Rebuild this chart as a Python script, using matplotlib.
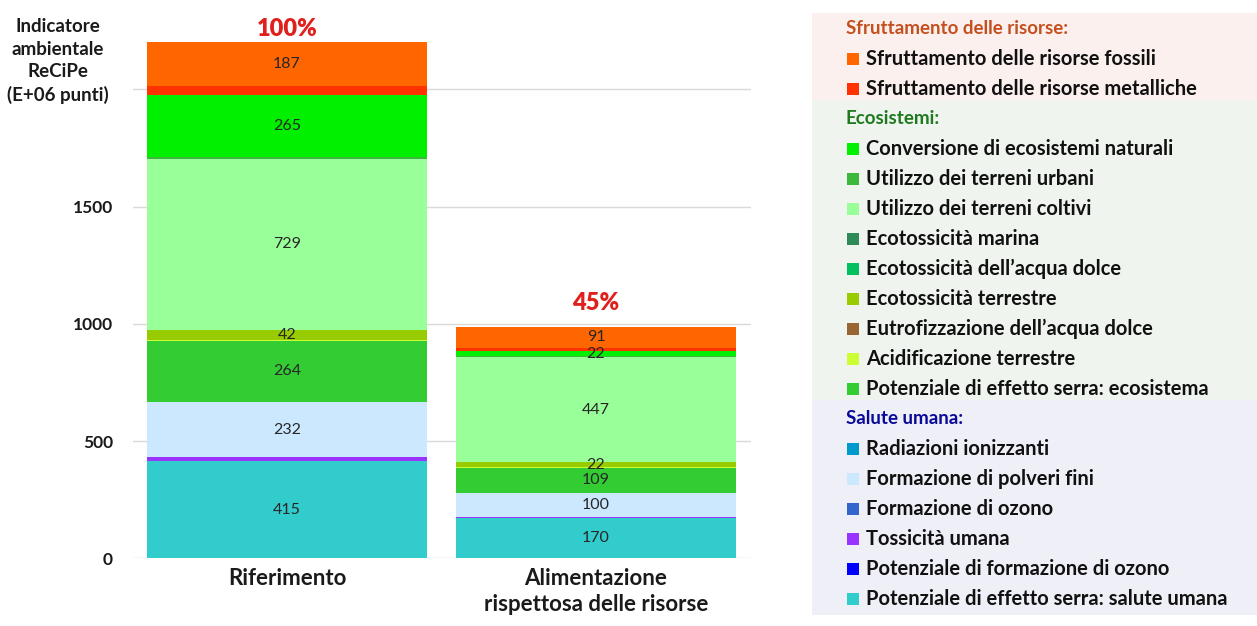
import numpy as np
import matplotlib.pyplot as plt
from matplotlib.patches import Rectangle

plt.rcParams['font.family'] = ['Lato', 'DejaVu Sans']

# DATA (legend order, top of stack first)
categories = ['Riferimento', 'Alimentazione\nrispettosa delle risorse']
groups = ['Sfruttamento delle risorse:', 'Ecosistemi:', 'Salute umana:']
group_sizes = [2, 9, 6]
group_colors = ['#C4501E', '#1F7A1F', '#0A0A9A']
group_bg = ['#FCF0EF', '#EFF4EF', '#EFEFF8']
series = [
    'Sfruttamento delle risorse fossili',
    'Sfruttamento delle risorse metalliche',
    'Conversione di ecosistemi naturali',
    'Utilizzo dei terreni urbani',
    'Utilizzo dei terreni coltivi',
    'Ecotossicità marina',
    'Ecotossicità dell\u2019acqua dolce',
    'Ecotossicità terrestre',
    'Eutrofizzazione dell\u2019acqua dolce',
    'Acidificazione terrestre',
    'Potenziale di effetto serra: ecosistema',
    'Radiazioni ionizzanti',
    'Formazione di polveri fini',
    'Formazione di ozono',
    'Tossicità umana',
    'Potenziale di formazione di ozono',
    'Potenziale di effetto serra: salute umana',
]
colors = ['#FF6600', '#FF3300', '#00F000', '#3CB83C', '#99FF99', '#2E8B57',
          '#00C060', '#99CC00', '#996633', '#CCFF33', '#33CC33', '#0099CC',
          '#CCE8FF', '#3366CC', '#9933FF', '#0000FF', '#33CCCC']
riferimento = [187, 37, 265, 8, 729, 0, 0, 42, 0, 4, 264, 0, 232, 0, 18, 0, 415]
alimentazione = [91, 14, 22, 3, 447, 0, 0, 22, 0, 2, 109, 0, 100, 0, 8, 0, 170]
shown = [True, False, True, False, True, False, False, True, False, False,
         True, False, True, False, False, False, True]

W, H = 1257, 626
fig = plt.figure(figsize=(W / 100, H / 100), dpi=100)

# main chart
ppu = 0.2344  # pixels per unit
ymax = 2300
ax = fig.add_axes([132.5 / W, 67.7 / H, 618 / W, ymax * ppu / H])
x = np.arange(len(categories))
bottom = np.zeros(len(categories))
for i in reversed(range(len(series))):
    vals = np.array([riferimento[i], alimentazione[i]])
    ax.bar(x, vals, 0.906, bottom=bottom, color=colors[i], linewidth=0, zorder=2)
    if shown[i]:
        for j in range(len(x)):
            ax.text(x[j], bottom[j] + vals[j] / 2, str(vals[j]), ha='center',
                    va='center', fontsize=11.5, color='#262626', zorder=3)
    bottom += vals

totals = bottom
pct_offset = [13, 24]
for j in range(len(x)):
    ax.annotate(f"{round(totals[j] / totals[0] * 100)}%", (x[j], totals[j]),
                xytext=(0, pct_offset[j] * 0.72), textcoords='offset points',
                ha='center', va='center', fontsize=17, fontweight='heavy',
                color='#E0201C')

ax.set_xlim(-0.5, 1.5)
ax.set_ylim(0, ymax)
ax.set_yticks([0, 500, 1000, 1500, 2000], ['0', '500', '1000', '1500', ''])
ax.set_xticks(x, categories)
ax.tick_params(axis='y', length=0, pad=14, labelsize=12.5, labelcolor='#1A1A1A')
ax.tick_params(axis='x', length=0, pad=7, labelsize=16, labelcolor='#1A1A1A')
for lab in ax.get_yticklabels() + ax.get_xticklabels():
    lab.set_fontweight('bold')
for lab in ax.get_xticklabels():
    lab.set_linespacing(1.3)
ax.yaxis.grid(True, color='#D9D9D9', lw=1, zorder=0)
ax.set_axisbelow(True)
for s in ax.spines.values():
    s.set_visible(False)

fig.text(58 / W, 1 - 61 / H, 'Indicatore\nambientale\nReCiPe\n(E+06 punti)',
         ha='center', va='center', fontsize=13.5, fontweight='bold',
         linespacing=1.38, color='#1A1A1A')

# legend panel
lg = fig.add_axes([812 / W, 0, (W - 812) / W, 1])
lg.set_xlim(812, W)
lg.set_ylim(H, 0)
lg.axis('off')
row_y = 29
step = 30
k = 0
for g, name in enumerate(groups):
    top = row_y + k * step - 16 if g == 0 else row_y + k * step - 19
    n_rows = group_sizes[g] + 1
    end = row_y + (k + n_rows) * step - 19 if g < len(groups) - 1 else row_y + (k + n_rows - 1) * step + 16
    lg.add_patch(Rectangle((812, top), W - 812, end - top, color=group_bg[g], lw=0))
    lg.text(846, row_y + k * step, name, ha='left', va='center', fontsize=13.5,
            fontweight='bold', color=group_colors[g])
    k += 1
    start = sum(group_sizes[:g])
    for i in range(start, start + group_sizes[g]):
        yy = row_y + k * step
        lg.add_patch(Rectangle((847, yy - 6), 12, 12, color=colors[i], lw=0))
        lg.text(866, yy, series[i], ha='left', va='center', fontsize=14.5,
                fontweight='bold', color='#111111')
        k += 1

fig.savefig('out.png', dpi=100)
